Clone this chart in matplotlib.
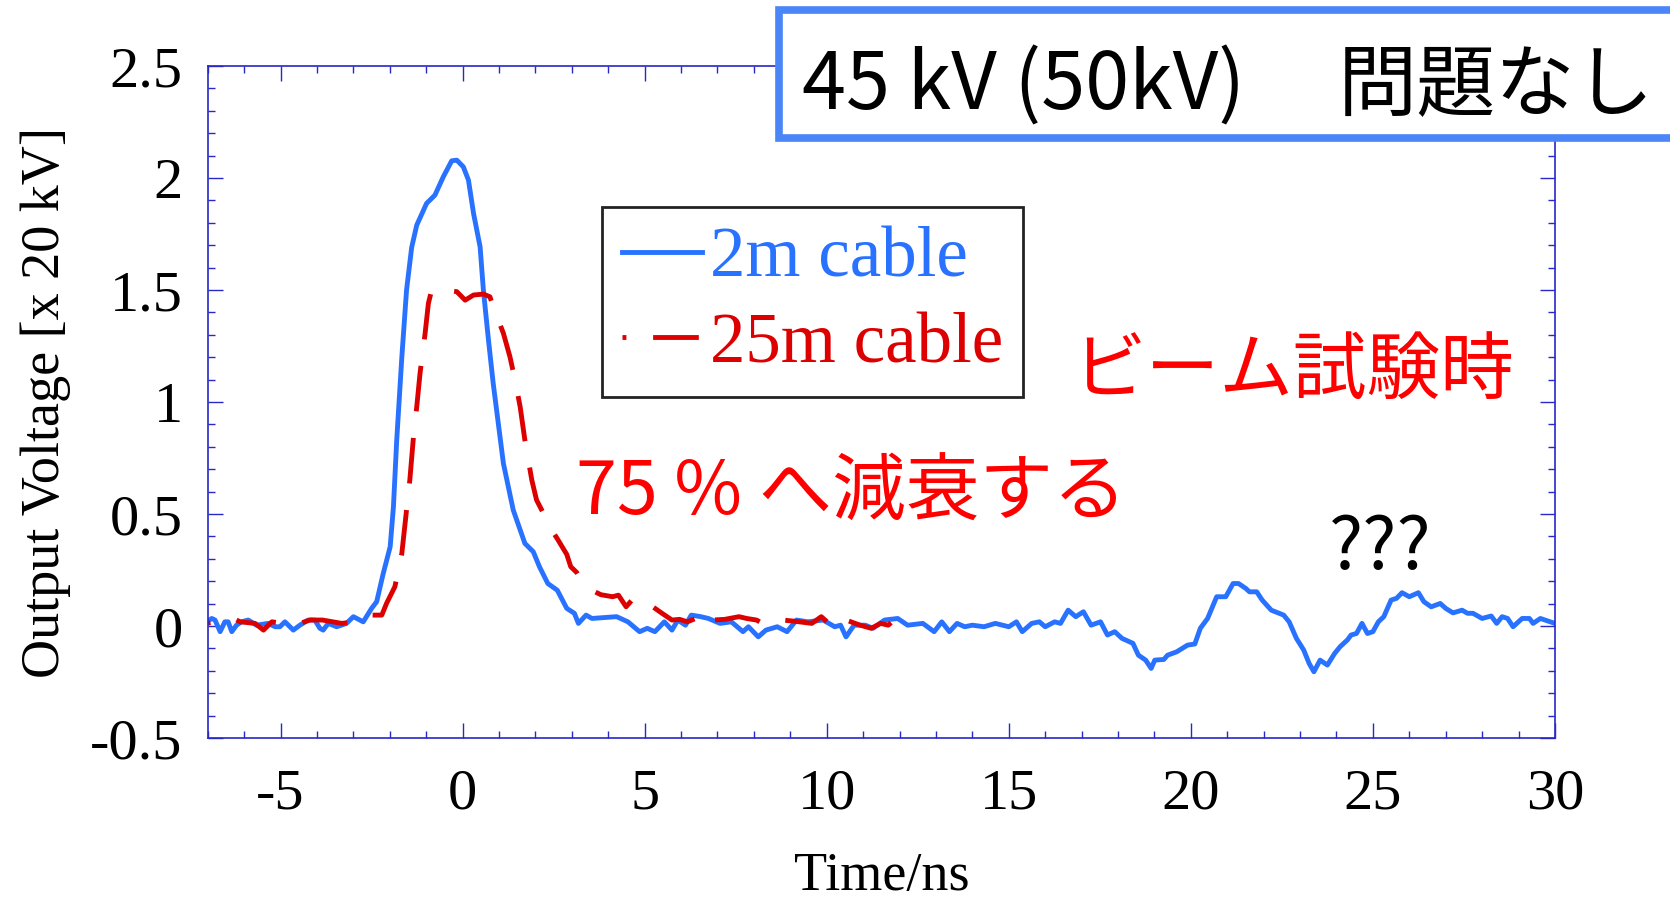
import matplotlib.pyplot as plt
from matplotlib.patches import Rectangle
from matplotlib.ticker import MultipleLocator

plt.rcParams['axes.unicode_minus'] = False

# 2m cable waveform (Time/ns, Output Voltage x 20 kV)
t_2m = [-7.03, -6.89, -6.80, -6.66, -6.53, -6.44, -6.34, -6.21, -6.07, -5.89,
        -5.66, -5.34, -5.15, -5.02, -4.88, -4.65, -4.47, -4.24, -4.06, -3.92,
        -3.83, -3.69, -3.46, -3.19, -3.00, -2.73, -2.50, -2.36, -2.18, -1.99,
        -1.90, -1.81, -1.67, -1.54, -1.40, -1.26, -0.99, -0.76, -0.53, -0.30,
        -0.16, 0.02, 0.16, 0.30, 0.48, 0.57, 0.71, 0.84, 0.98, 1.12,
        1.39, 1.71, 1.94, 2.11, 2.34, 2.60, 2.86, 3.07, 3.18, 3.39,
        3.55, 3.90, 4.23, 4.54, 4.86, 5.07, 5.28, 5.54, 5.75, 5.91,
        6.12, 6.28, 6.54, 6.75, 7.07, 7.38, 7.70, 7.85, 8.12, 8.33,
        8.64, 8.91, 9.17, 9.48, 9.90, 10.22, 10.38, 10.53, 10.75, 11.06,
        11.27, 11.59, 11.95, 12.22, 12.64, 12.95, 13.16, 13.37, 13.58, 13.79,
        14.00, 14.32, 14.63, 15.00, 15.21, 15.37, 15.63, 15.84, 16.00, 16.26,
        16.42, 16.63, 16.84, 17.05, 17.26, 17.52, 17.71, 17.91, 18.11, 18.41,
        18.56, 18.76, 18.91, 19.01, 19.26, 19.36, 19.61, 19.91, 20.11, 20.26,
        20.46, 20.71, 20.96, 21.16, 21.31, 21.51, 21.61, 21.81, 21.96, 22.21,
        22.55, 22.70, 22.90, 23.10, 23.25, 23.38, 23.55, 23.75, 23.95, 24.10,
        24.30, 24.40, 24.55, 24.70, 24.85, 25.00, 25.15, 25.30, 25.50, 25.65,
        25.80, 26.00, 26.25, 26.40, 26.60, 26.85, 27.00, 27.20, 27.45, 27.60,
        27.75, 28.00, 28.25, 28.40, 28.55, 28.70, 28.85, 29.10, 29.30, 29.40,
        29.60, 30.00]
v_2m = [0.019, 0.034, 0.027, -0.025, 0.019, 0.019, -0.025, 0.004, 0.019, 0.027,
        0.004, 0.012, -0.003, -0.003, 0.019, -0.018, 0.004, 0.027, 0.027, -0.010,
        -0.018, 0.012, -0.003, 0.012, 0.042, 0.019, 0.079, 0.109, 0.235, 0.354,
        0.533, 0.830, 1.200, 1.500, 1.690, 1.790, 1.887, 1.924, 2.006, 2.077,
        2.080, 2.050, 1.991, 1.842, 1.693, 1.500, 1.277, 1.083, 0.905, 0.726,
        0.518, 0.369, 0.332, 0.265, 0.190, 0.160, 0.079, 0.057, 0.012, 0.049,
        0.034, 0.038, 0.042, 0.019, -0.025, -0.010, -0.025, 0.019, -0.018, 0.027,
        0.004, 0.049, 0.042, 0.034, 0.012, 0.019, -0.025, -0.003, -0.048, -0.018,
        -0.003, -0.025, 0.027, 0.019, 0.027, -0.003, 0.004, -0.048, 0.004, 0.004,
        -0.010, 0.027, 0.034, 0.004, 0.012, -0.025, 0.019, -0.025, 0.012, -0.003,
        0.004, -0.003, 0.012, -0.003, 0.019, -0.025, 0.012, 0.019, -0.003, 0.019,
        0.012, 0.071, 0.042, 0.064, 0.004, 0.019, -0.040, -0.025, -0.055, -0.077,
        -0.130, -0.152, -0.189, -0.152, -0.149, -0.130, -0.115, -0.085, -0.080, -0.010,
        0.034, 0.131, 0.131, 0.190, 0.190, 0.168, 0.153, 0.153, 0.116, 0.071,
        0.049, 0.019, -0.055, -0.107, -0.167, -0.204, -0.152, -0.174, -0.122, -0.092,
        -0.062, -0.040, -0.033, 0.012, -0.033, -0.025, 0.019, 0.042, 0.116, 0.124,
        0.149, 0.131, 0.149, 0.109, 0.086, 0.101, 0.079, 0.059, 0.071, 0.057,
        0.057, 0.034, 0.045, 0.012, 0.042, 0.034, -0.003, 0.034, 0.034, 0.012,
        0.034, 0.012]

# 25m cable waveform
t_25m = [-7.03, -6.30, -6.11, -5.70, -5.47, -5.24, -4.80, -4.47, -4.19, -3.85,
         -3.32, -2.90, -2.50, -2.22, -2.09, -1.86, -1.67, -1.54, -1.45, -1.35,
         -1.26, -1.17, -1.03, -0.94, -0.85, -0.50, -0.16, 0.07, 0.30, 0.57,
         0.75, 0.84, 1.12, 1.30, 1.44, 1.58, 1.71, 1.90, 2.03, 2.22,
         2.36, 2.60, 2.86, 2.97, 3.13, 3.28, 3.44, 3.80, 4.12, 4.28,
         4.49, 4.65, 4.76, 4.91, 5.12, 5.45, 5.75, 5.96, 6.17, 6.40,
         6.51, 6.65, 6.86, 7.20, 7.59, 7.80, 8.07, 8.24, 8.48, 8.70,
         8.80, 9.20, 9.59, 9.85, 10.01, 10.22, 10.38, 10.53, 10.90, 11.22,
         11.48, 11.69, 11.85, 12.01, 12.16, 12.32]
v_25m = [0.012, 0.034, 0.019, 0.012, -0.018, 0.019, 0.010, 0.012, 0.027, 0.027,
         0.012, 0.020, 0.049, 0.049, 0.101, 0.176, 0.324, 0.518, 0.652, 0.845,
         0.979, 1.128, 1.307, 1.441, 1.500, 1.500, 1.493, 1.455, 1.478, 1.482,
         1.470, 1.426, 1.307, 1.202, 1.098, 0.979, 0.830, 0.652, 0.563, 0.503,
         0.451, 0.390, 0.320, 0.265, 0.240, 0.198, 0.168, 0.140, 0.131, 0.138,
         0.086, 0.116, 0.124, 0.098, 0.098, 0.060, 0.027, 0.030, 0.019, 0.034,
         0.027, 0.057, 0.027, 0.030, 0.042, 0.034, 0.027, 0.012, 0.012, 0.027,
         0.027, 0.020, 0.012, 0.042, 0.019, 0.049, 0.027, 0.027, 0.005, -0.010,
         0.012, 0.004, 0.027, 0.019, 0.027, 0.019]

labels = ['2m cable', '25m cable']
colors = ['#2872ff', '#dd0000']

serif = 'Liberation Serif'
jp = ['Noto Sans CJK JP', 'DejaVu Sans']
axis_blue = '#2828c8'

fig = plt.figure(figsize=(16.7, 8.99), dpi=100)
ax = fig.add_axes([0.1244, 0.179, 0.8067, 0.7475])

ax.plot(t_2m, v_2m, color=colors[0], lw=3.5, solid_joinstyle='round',
        label=labels[0])
ax.plot(t_25m, v_25m, color=colors[1], lw=3.5, linestyle=(8.6, (9.4, 5.5)),
        dash_capstyle='butt', label=labels[1])

ax.set_xlim(-7, 30)
ax.set_ylim(-0.5, 2.5)
ax.xaxis.set_major_locator(MultipleLocator(5))
ax.xaxis.set_minor_locator(MultipleLocator(1))
ax.yaxis.set_major_locator(MultipleLocator(0.5))
ax.yaxis.set_minor_locator(MultipleLocator(0.1))
ax.set_yticks([-0.5, 0, 0.5, 1, 1.5, 2, 2.5])
ax.set_yticklabels(['-0.5', '0', '0.5', '1', '1.5', '2', '2.5'])

for s in ax.spines.values():
    s.set_color(axis_blue)
    s.set_linewidth(1.2)
ax.tick_params(which='both', direction='in', top=True, right=True,
               color=axis_blue, width=1)
ax.tick_params(which='major', length=11)
ax.tick_params(which='minor', length=5)
ax.tick_params(axis='y', which='major', pad=18)
ax.tick_params(axis='x', which='major', pad=22)
for lab in ax.get_xticklabels() + ax.get_yticklabels():
    lab.set_fontfamily(serif)
    lab.set_fontsize(42)

ax.set_xlabel('Time/ns', fontfamily=serif, fontsize=39, labelpad=22)
ax.set_ylabel('Output Voltage [x 20 kV]', fontfamily=serif, fontsize=39,
              labelpad=14)

leg = ax.legend(loc='upper left', bbox_to_anchor=(601.7 / 1670, 1 - 206.7 / 899),
                bbox_transform=fig.transFigure, prop={'family': serif, 'size': 51},
                handlelength=1.13, handletextpad=0.12, borderpad=0.28,
                labelspacing=0.29, borderaxespad=0, fancybox=False,
                framealpha=1, edgecolor='#222222', labelcolor='linecolor')
leg.get_frame().set_linewidth(2)

# red annotations in the plot
ax.text(16.75, 1.135, 'ビーム試験時', color='#ff0000', fontsize=53,
        family=jp, va='center', ha='left')
ax.text(3.11, 0.59, '75 % へ減衰する', color='#ff0000', fontsize=53,
        family=jp, va='center', ha='left')
ax.text(25.2, 0.345, '???', color='black', fontsize=52, family=jp,
        va='center', ha='center')

# header box, running off the right edge
box = Rectangle((779 / 1670, 1 - 138 / 899), 0.6, 128 / 899,
                transform=fig.transFigure, facecolor='white',
                edgecolor='#4a86f7', lw=5.5, zorder=5, clip_on=False)
fig.add_artist(box)
fig.text(802 / 1670, 1 - 110 / 899, '45 kV (50kV)', fontsize=57, family=jp,
         va='baseline', ha='left', zorder=6)
fig.text(1338 / 1670, 1 - 110 / 899, '問題なし', fontsize=57, family=jp,
         va='baseline', ha='left', zorder=6)

fig.savefig('out.png', dpi=100)
